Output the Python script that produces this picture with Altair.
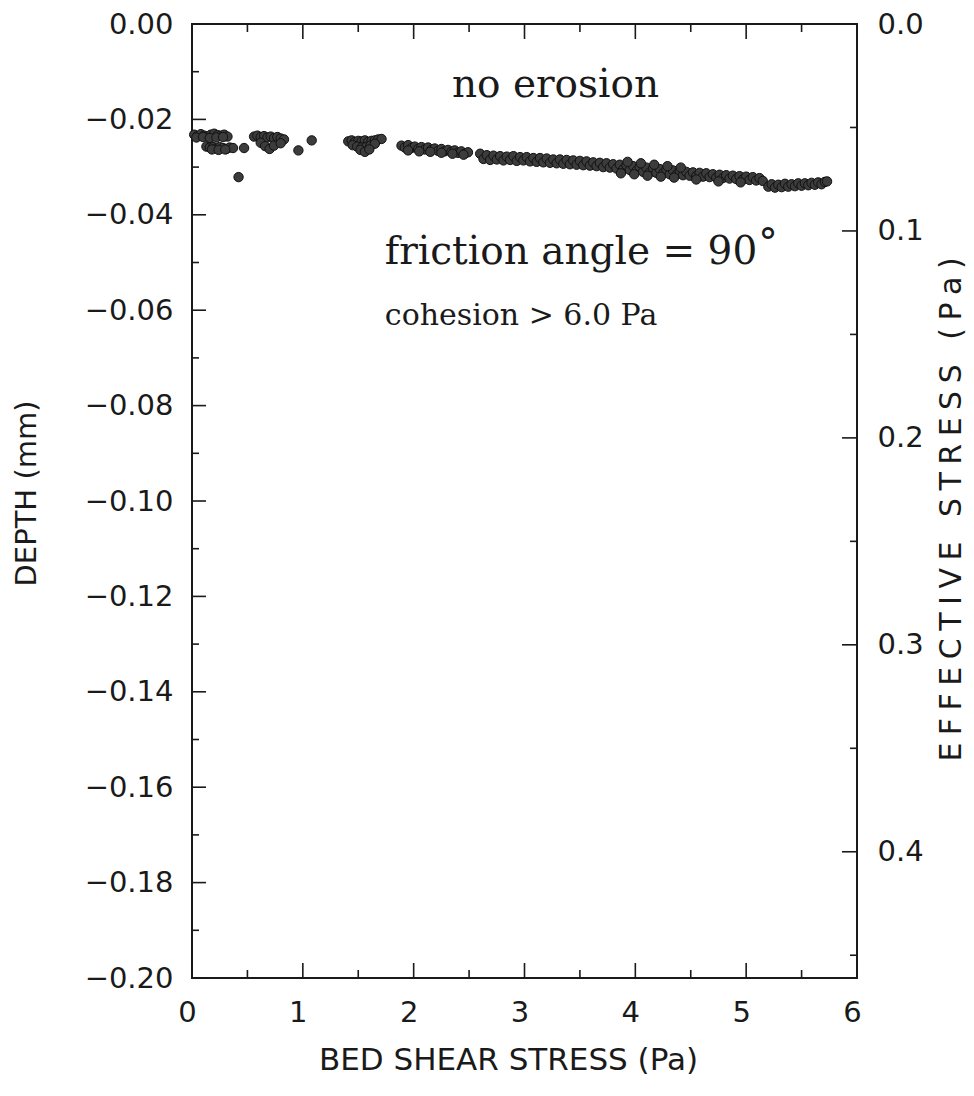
import altair as alt
import pandas as pd

# ---------------- data ----------------
# cluster near 0-0.35 Pa, upper row
a_up_x = [0.02, 0.05, 0.08, 0.11, 0.14, 0.17, 0.20, 0.23, 0.26, 0.29, 0.32, 0.04, 0.10, 0.16, 0.22, 0.28]
a_up_y = [-0.0232, -0.0235, -0.0231, -0.0234, -0.0236, -0.0232, -0.0230, -0.0233, -0.0234, -0.0232,
          -0.0236, -0.0238, -0.0237, -0.0239, -0.0238, -0.0237]
# cluster near 0.13-0.5 Pa, lower row
a_lo_x = [0.13, 0.16, 0.19, 0.22, 0.25, 0.28, 0.31, 0.34, 0.37, 0.47, 0.18, 0.24, 0.30]
a_lo_y = [-0.0257, -0.0259, -0.0258, -0.0261, -0.0258, -0.0260, -0.0262, -0.0259, -0.0260, -0.0260,
          -0.0263, -0.0264, -0.0263]
# outlier
out_x = [0.42]
out_y = [-0.0321]
# cluster near 0.55-0.85 Pa
b_x = [0.56, 0.59, 0.62, 0.65, 0.68, 0.71, 0.74, 0.77, 0.80, 0.83, 0.62, 0.66, 0.70, 0.74, 0.80]
b_y = [-0.0236, -0.0234, -0.0237, -0.0235, -0.0238, -0.0236, -0.0239, -0.0237, -0.0240, -0.0242,
       -0.0249, -0.0256, -0.0262, -0.0255, -0.0250]
# single points near 1 Pa
s_x = [0.96, 1.08]
s_y = [-0.0265, -0.0244]
# blob near 1.40-1.72 Pa
c_x = [1.41, 1.44, 1.47, 1.50, 1.53, 1.56, 1.59, 1.62, 1.65, 1.68, 1.71,
       1.45, 1.49, 1.53, 1.57, 1.61, 1.65, 1.52, 1.56, 1.60]
c_y = [-0.0246, -0.0244, -0.0247, -0.0245, -0.0246, -0.0244, -0.0247, -0.0245, -0.0244, -0.0242, -0.0241,
       -0.0254, -0.0257, -0.0259, -0.0258, -0.0255, -0.0251, -0.0264, -0.0268, -0.0263]
# band near 1.9-2.5 Pa
d_x = [1.89, 1.92, 1.95, 1.98, 2.01, 2.04, 2.07, 2.10, 2.13, 2.16, 2.19, 2.22, 2.25, 2.28, 2.31,
       2.34, 2.37, 2.40, 2.43, 2.46, 2.49, 1.95, 2.05, 2.15, 2.25, 2.35, 2.45]
d_y = [-0.0255, -0.0259, -0.0254, -0.0260, -0.0257, -0.0262, -0.0258, -0.0263, -0.0259, -0.0264,
       -0.0261, -0.0266, -0.0262, -0.0267, -0.0264, -0.0268, -0.0265, -0.0270, -0.0267, -0.0272, -0.0269,
       -0.0265, -0.0267, -0.0268, -0.0270, -0.0272, -0.0274]
# long band 2.6-5.15 Pa
e_x = [2.60, 2.63, 2.66, 2.69, 2.72, 2.75, 2.78, 2.81, 2.84, 2.87, 2.90, 2.93, 2.96, 2.99, 3.02,
       3.05, 3.08, 3.11, 3.14, 3.17, 3.20, 3.23, 3.26, 3.29, 3.32, 3.35, 3.38, 3.41, 3.44, 3.47,
       3.50, 3.53, 3.56, 3.59, 3.62, 3.65, 3.68, 3.71, 3.74, 3.77, 3.80, 3.83, 3.86, 3.89, 3.92,
       3.95, 3.98, 4.01, 4.04, 4.07, 4.10, 4.13, 4.16, 4.19, 4.22, 4.25, 4.28, 4.31, 4.34, 4.37,
       4.40, 4.43, 4.46, 4.49, 4.52, 4.55, 4.58, 4.61, 4.64, 4.67, 4.70, 4.73, 4.76, 4.79, 4.82,
       4.85, 4.88, 4.91, 4.94, 4.97, 5.00, 5.03, 5.06, 5.09, 5.12, 5.15]
e_y = [-0.0272, -0.0283, -0.0275, -0.0285, -0.0276, -0.0284, -0.0277, -0.0286, -0.0278, -0.0285,
       -0.0277, -0.0287, -0.0279, -0.0286, -0.0279, -0.0288, -0.0281, -0.0289, -0.0281, -0.0290,
       -0.0282, -0.0291, -0.0284, -0.0292, -0.0284, -0.0293, -0.0285, -0.0294, -0.0286, -0.0295,
       -0.0287, -0.0296, -0.0288, -0.0297, -0.0290, -0.0298, -0.0291, -0.0300, -0.0292, -0.0301,
       -0.0294, -0.0303, -0.0295, -0.0305, -0.0296, -0.0306, -0.0298, -0.0308, -0.0299, -0.0310,
       -0.0301, -0.0311, -0.0302, -0.0312, -0.0304, -0.0313, -0.0305, -0.0315, -0.0307, -0.0316,
       -0.0308, -0.0317, -0.0310, -0.0318, -0.0311, -0.0319, -0.0312, -0.0320, -0.0313, -0.0321,
       -0.0315, -0.0322, -0.0316, -0.0323, -0.0317, -0.0324, -0.0318, -0.0325, -0.0319, -0.0326,
       -0.0320, -0.0327, -0.0321, -0.0328, -0.0323, -0.0329]
# extra points where the band is thicker (3.85-4.45 Pa)
e2_x = [3.87, 3.93, 3.99, 4.05, 4.11, 4.17, 4.23, 4.29, 4.35, 4.41, 4.55, 4.75, 4.95]
e2_y = [-0.0313, -0.0289, -0.0315, -0.0292, -0.0318, -0.0295, -0.0320, -0.0298, -0.0322, -0.0301,
        -0.0326, -0.0330, -0.0332]
# last band 5.2-5.73 Pa
f_x = [5.20, 5.23, 5.26, 5.29, 5.32, 5.35, 5.38, 5.41, 5.44, 5.47, 5.50, 5.53, 5.56, 5.59, 5.62,
       5.65, 5.68, 5.71, 5.73]
f_y = [-0.0341, -0.0336, -0.0343, -0.0337, -0.0342, -0.0335, -0.0341, -0.0336, -0.0340, -0.0334,
       -0.0339, -0.0334, -0.0338, -0.0333, -0.0337, -0.0332, -0.0336, -0.0331, -0.0330]

# axis ticks
x_major = [0, 1, 2, 3, 4, 5, 6]
x_minor = [0.5, 1.5, 2.5, 3.5, 4.5, 5.5]
depth_major = [0.0, -0.02, -0.04, -0.06, -0.08, -0.10, -0.12, -0.14, -0.16, -0.18, -0.20]
depth_minor = [-0.01, -0.03, -0.05, -0.07, -0.09, -0.11, -0.13, -0.15, -0.17, -0.19]
stress_major = [0.0, 0.1, 0.2, 0.3, 0.4]
stress_minor = [0.05, 0.15, 0.25, 0.35, 0.45]
stress_max = 0.461

# titles
x_title = "BED SHEAR STRESS (Pa)"
y_title = "DEPTH (mm)"
s_title = "EFFECTIVE STRESS (Pa)"

# annotations
ann_main = ["no erosion"]
ann_main_x = [3.28]
ann_main_y = [-0.0153]
fric_text = ["friction angle = 90"]
fric_x = [5.10]
fric_y = [-0.0503]
deg_text = ["°"]
deg_x = [5.11]
deg_y = [-0.0503]
coh_text = ["cohesion > 6.0 Pa"]
coh_x = [1.74]
coh_y = [-0.0630]

# ---------------- build ----------------
def seg(xs, ys):
    return pd.DataFrame({"shear": xs, "depth": ys})

points = pd.concat([seg(a_up_x, a_up_y), seg(a_lo_x, a_lo_y), seg(out_x, out_y), seg(b_x, b_y),
                    seg(s_x, s_y), seg(c_x, c_y), seg(d_x, d_y), seg(e_x, e_y), seg(e2_x, e2_y),
                    seg(f_x, f_y)], ignore_index=True)

W, H = 665, 954
FONT = "DejaVu Sans"
SERIF = "DejaVu Serif"
INK = "#1a1a1a"

xs = alt.Scale(domain=[0, 6], nice=False, zero=False)
ys = alt.Scale(domain=[-0.20, 0.0], nice=False, zero=False)
ss = alt.Scale(domain=[0, stress_max], reverse=True, nice=False, zero=False)

common = dict(ticks=False, domain=False, grid=False, tickSize=0, labelFlush=False, labelOverlap=False,
              labelFontSize=29, labelFont=FONT, labelColor=INK, titleFont=FONT,
              titleFontWeight="normal", titleColor=INK, titleBaseline="middle", titleAlign="center")

# the right-hand title is drawn letter-spaced in the original
spaced = "\u2005".join(list(s_title))

x_axis = alt.Axis(values=x_major, format="d", title=x_title, labelPadding=20, titleFontSize=31,
                  labelOffset=-5, titleX=316, titleY=82, orient="bottom", **common)
y_axis = alt.Axis(values=depth_major, format=".2f", title=y_title, labelPadding=19, titleFontSize=29,
                  titleX=-166, titleY=H / 2 - 8, titleAngle=270, orient="left", **common)
s_axis = alt.Axis(values=stress_major, format=".1f", title=spaced, labelPadding=20, titleFontSize=30,
                  titleX=94, titleY=H / 2 + 8, titleAngle=270, orient="right", **common)

X = alt.X("shear:Q", scale=xs, axis=x_axis)
Y = alt.Y("depth:Q", scale=ys, axis=y_axis)

pts = alt.Chart(points).mark_point(filled=True, shape="circle", size=88, color="#3c3c3c",
                                   stroke="#111", strokeWidth=1.0, opacity=1).encode(x=X, y=Y)

def hticks(vals, x0, x1):
    return alt.Chart(pd.DataFrame({"depth": vals})).mark_rule(color=INK, strokeWidth=1.6).encode(
        y=Y, x=alt.value(x0), x2=alt.value(x1))

def vticks(vals, y0, y1):
    return alt.Chart(pd.DataFrame({"shear": vals})).mark_rule(color=INK, strokeWidth=1.6).encode(
        x=X, y=alt.value(y0), y2=alt.value(y1))

left_t = hticks(depth_major, 0, 14) + hticks(depth_minor, 0, 7)
bot_t = vticks(x_major, H, H - 15) + vticks(x_minor, H, H - 8)
top_t = vticks(x_major, 0, 15) + vticks(x_minor, 0, 8)

def txt(texts, xv, yv, size, align, dy=0):
    df = pd.DataFrame({"t": texts, "shear": xv, "depth": yv})
    return alt.Chart(df).mark_text(font=SERIF, fontSize=size, align=align, baseline="alphabetic",
                                   color=INK, dy=dy).encode(x=X, y=Y, text="t:N")

texts = (txt(ann_main, ann_main_x, ann_main_y, 39, "center")
         + txt(fric_text, fric_x, fric_y, 39, "right")
         + txt(deg_text, deg_x, deg_y, 39, "left", dy=-8)
         + txt(coh_text, coh_x, coh_y, 30, "left"))

main = alt.layer(left_t, bot_t, top_t, pts, texts)

S = alt.Y("stress:Q", scale=ss, axis=s_axis)
right = (alt.Chart(pd.DataFrame({"stress": stress_major})).mark_rule(color=INK, strokeWidth=1.6).encode(
    y=S, x=alt.value(W), x2=alt.value(W - 15))
    + alt.Chart(pd.DataFrame({"stress": stress_minor})).mark_rule(color=INK, strokeWidth=1.6).encode(
    y=S, x=alt.value(W), x2=alt.value(W - 7)))

chart = alt.layer(main, right).resolve_scale(y="independent").properties(
    width=W, height=H,
    autosize=alt.AutoSizeParams(type="none"),
    padding={"left": 192, "top": 24, "right": 974 - 192 - W, "bottom": 1096 - 24 - H},
    background="white",
).configure_view(stroke=INK, strokeWidth=2)

chart.save("out.html", embed_options={"renderer": "svg", "actions": False})
